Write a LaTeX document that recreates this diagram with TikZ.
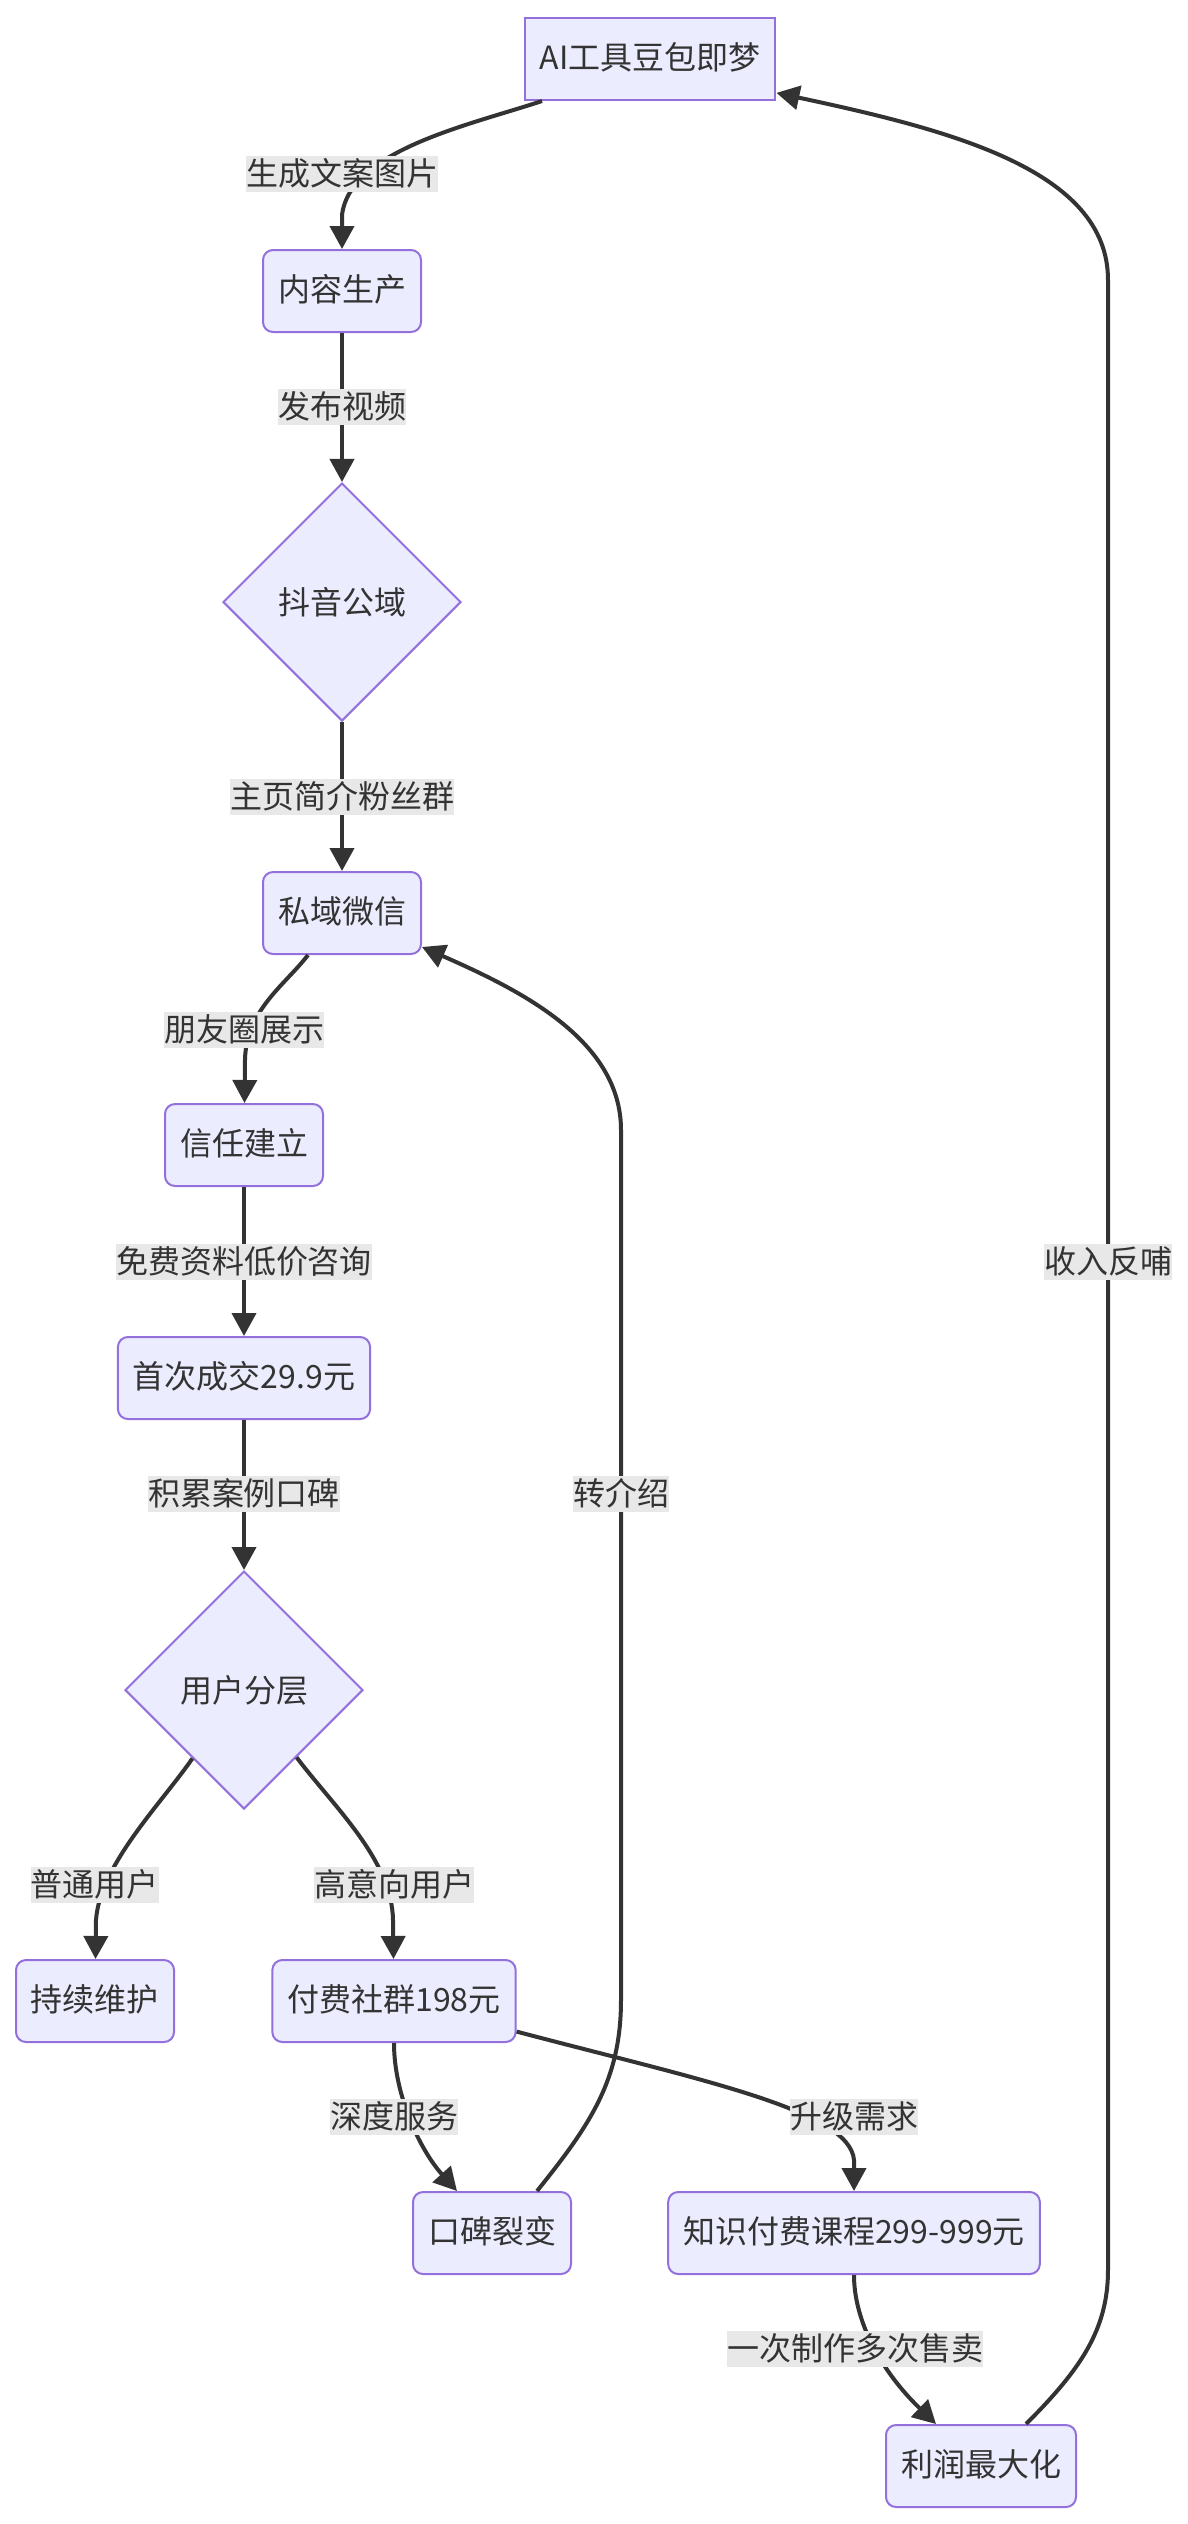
\documentclass[tikz,border=0pt]{standalone}
\usepackage{fontspec}
\setmainfont{Noto Sans CJK SC}
\usetikzlibrary{arrows.meta,shapes.geometric}
\definecolor{nodefill}{HTML}{ECECFF}
\definecolor{nodeline}{HTML}{9370DB}
\definecolor{ink}{HTML}{333333}
\definecolor{tagfill}{HTML}{E8E8E8}
\begin{document}
\begin{tikzpicture}[x=0.5pt,y=-0.5pt,
  stage/.style={draw=nodeline,fill=nodefill,line width=1pt,rounded corners=5pt,minimum height=41pt,inner xsep=7.5pt,text=ink,font=\fontsize{16}{19}\selectfont,text height=13pt,text depth=3pt},
  tool/.style={stage,sharp corners},
  decision/.style={diamond,draw=nodeline,fill=nodefill,line width=1pt,minimum width=119pt,minimum height=119pt,inner sep=0pt,text=ink,font=\fontsize{16}{19}\selectfont},
  link/.style={draw=ink,line width=2pt,-{Triangle[width=12pt,length=11.5pt]}},
  linktext/.style={fill=tagfill,inner xsep=0pt,inner ysep=1pt,text height=13.5pt,text depth=2.5pt,text=ink,font=\fontsize{16}{19}\selectfont}]
      \path[use as bounding box,fill=white] (0,0) rectangle (1188,2524);
      \node[tool] (stage 1) at (650,59) {AI工具豆包即梦};
      \node[stage] (stage 2) at (342,291) {内容生产};
      \node[decision] (stage 3) at (342,602) {抖音公域};
      \node[stage] (stage 4) at (342,913) {私域微信};
      \node[stage] (stage 5) at (244,1145) {信任建立};
      \node[stage] (stage 6) at (244,1378) {首次成交29.9元};
      \node[decision] (stage 7) at (244,1690) {用户分层};
      \node[stage] (stage 8) at (95,2001) {持续维护};
      \node[stage] (stage 9) at (394,2001) {付费社群198元};
      \node[stage] (stage 10) at (492,2233) {口碑裂变};
      \node[stage] (stage 11) at (854,2233) {知识付费课程299-999元};
      \node[stage] (stage 12) at (981,2466) {利润最大化};
      \draw[link] ([xshift=-54pt]stage 1.south) .. controls (470,125) and (350,150) .. (342,215) -- (stage 2);
      \draw[link] (stage 2) -- (stage 3);
      \draw[link] (stage 3) -- (stage 4);
      \draw[link] ([xshift=-17pt]stage 4.south) .. controls (285,985) and (246,1010) .. (245,1060) -- (stage 5);
      \draw[link] (stage 5) -- (stage 6);
      \draw[link] (stage 6) -- (stage 7);
      \draw[link] (stage 7.233) .. controls (160,1805) and (100,1865) .. (96,1920) -- (stage 8);
      \draw[link] (stage 7.308) .. controls (335,1808) and (392,1860) .. (393,1920) -- (stage 9);
      \draw[link] (stage 9.south) .. controls (394,2095) and (420,2150) .. ([xshift=-17.5pt]stage 10.north);
      \draw[link] (stage 10.43) .. controls (590,2125) and (621,2080) .. (621,2000) -- (621,1130) .. controls (621,1040) and (520,990) .. (stage 4.337);
      \draw[link] (stage 9.346) .. controls (700,2080) and (850,2110) .. (854,2160) -- (stage 11);
      \draw[link] (stage 11.south) .. controls (854,2320) and (880,2370) .. ([xshift=-22.5pt]stage 12.north);
      \draw[link] (stage 12.43) .. controls (1080,2370) and (1108,2330) .. (1108,2270) -- (1108,280) .. controls (1108,170) and (950,130) .. (stage 1.345);
      \node[linktext] (label 1) at (342,174) {生成文案图片};
      \node[linktext] (label 2) at (342,407) {发布视频};
      \node[linktext] (label 3) at (342,797) {主页简介粉丝群};
      \node[linktext] (label 4) at (244,1030) {朋友圈展示};
      \node[linktext] (label 5) at (244,1262) {免费资料低价咨询};
      \node[linktext] (label 6) at (244,1494) {积累案例口碑};
      \node[linktext] (label 7) at (95,1885) {普通用户};
      \node[linktext] (label 8) at (394,1885) {高意向用户};
      \node[linktext] (label 9) at (394,2117) {深度服务};
      \node[linktext] (label 10) at (621,1494) {转介绍};
      \node[linktext] (label 11) at (854,2117) {升级需求};
      \node[linktext] (label 12) at (855,2349) {一次制作多次售卖};
      \node[linktext] (label 13) at (1108,1262) {收入反哺};
    \end{tikzpicture}
\end{document}
